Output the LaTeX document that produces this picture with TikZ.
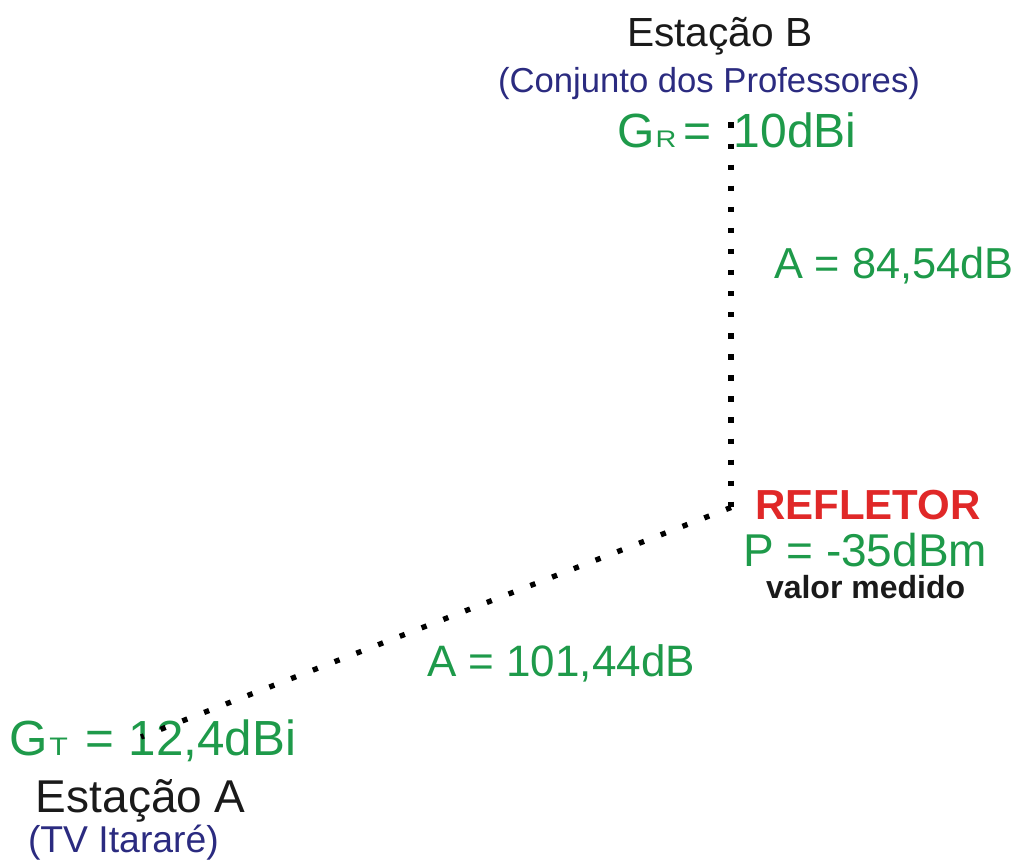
\documentclass[tikz,border=0pt]{standalone}
\usepackage{fontspec}
\setmainfont{Liberation Sans}
\newfontfamily\subfont[FakeStretch=1.2]{Liberation Sans}
\definecolor{gaingreen}{HTML}{1E9A4A}
\definecolor{sitenavy}{HTML}{2B2B80}
\definecolor{refred}{HTML}{E02828}
\definecolor{inkblack}{HTML}{1A1A1A}
\newcommand{\fs}[1]{\fontsize{#1}{#1}\selectfont}
\tikzset{
  lbl/.style={anchor=base west, inner sep=0pt, outer sep=0pt},
  linkdots/.style={line width=4pt, line cap=butt},
  vdots/.style={linkdots, dash pattern=on 4pt off 11.8pt},
  ddots/.style={linkdots, dash pattern=on 4pt off 13.5pt},
}
\begin{document}
\begin{tikzpicture}[x=0.75pt,y=-0.75pt]
\useasboundingbox (0,0) rectangle (1017,863);

% station B (receiver)
\node[lbl, text=inkblack] (stB) at (627,47) {\fs{30.5}Estação B};
\node[lbl, text=sitenavy] (stBname) at (498,93) {\fs{26}(Conjunto dos Professores)};
\node[lbl, text=gaingreen] (gR) at (617,148)
  {\fs{36}G\hspace{1pt}{\subfont\fs{18}R}\hspace{5pt}=\hspace{17pt}10dBi};

% link loss B -- reflector
\node[lbl, text=gaingreen] (lossB) at (774,278) {\fs{32.5}A = 84,54dB};

% reflector
\node[lbl, text=refred] (refl) at (755,519) {\fs{31.5}\bfseries REFLETOR};
\node[lbl, text=gaingreen] (pwr) at (743,566) {\fs{34.5}P = -35dBm};
\node[lbl, text=inkblack] (meas) at (766,598) {\fs{24}\bfseries valor medido};

% link loss A -- reflector
\node[lbl, text=gaingreen] (lossA) at (427,676) {\fs{33}A = 101,44dB};

% station A (transmitter)
\node[lbl, text=gaingreen] (gT) at (9,755)
  {\fs{37}G\hspace{1.5pt}{\subfont\fs{19}T}\hspace{13pt}=\hspace{11pt}12,4dBi};
\node[lbl, text=inkblack] (stA) at (36,812) {\fs{34.5}Estação A};
\node[lbl, text=sitenavy] (stAname) at (28,852) {\fs{28}(TV Itararé)};

% path end points
\coordinate (antB) at (731,122.5);
\coordinate (refP) at (731,507.5);
\coordinate (antA) at (141,737);

% dotted propagation paths
\draw[vdots] (antB) -- (refP);
\draw[ddots] (refP) -- (antA);
\end{tikzpicture}
\end{document}
